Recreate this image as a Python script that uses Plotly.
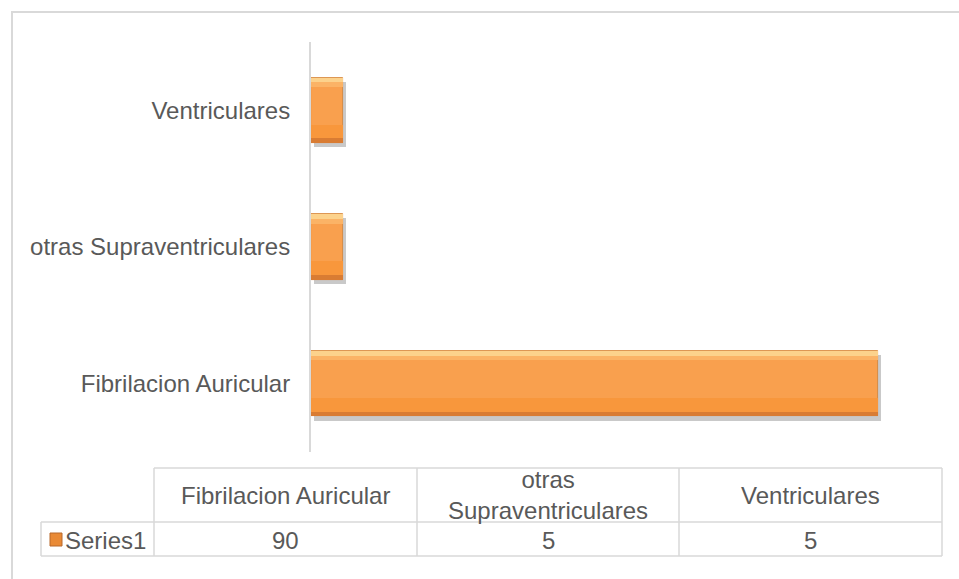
import plotly.graph_objects as go

# ---- data ----
categories = ["Fibrilacion Auricular", "otras Supraventriculares", "Ventriculares"]
series_name = "Series1"
values = [90, 5, 5]

# ---- styling ----
W, H = 959, 579
L, R, T, B = 311, 18, 42, 127
FONT = "Liberation Sans, Arial, sans-serif"
TXT = "#595959"
GRID = "#d9d9d9"
ORANGE = "#F9A04E"
FS = 24

plot_w = W - L - R
plot_h = H - T - B


def px(x):
    """pixel x -> paper x"""
    return (x - L) / plot_w


def py(y):
    """pixel y -> paper y"""
    return (H - B - y) / plot_h


BW = 0.48  # bar thickness in category units

fig = go.Figure()


def bar_layer(offset, width, color, base=None, **kw):
    fig.add_trace(go.Bar(
        y=categories, x=values, base=base, orientation="h",
        width=width, offset=offset,
        marker=dict(color=color, line=dict(width=0)),
        hoverinfo="skip", showlegend=False, **kw,
    ))


# soft drop shadow under each bar
bar_layer(-BW / 2 - 0.03, BW, "rgba(120,120,120,0.40)", base=0.5)
# main bar body
fig.add_trace(go.Bar(
    y=categories, x=values, orientation="h", name=series_name,
    width=BW, offset=-BW / 2,
    marker=dict(color=ORANGE, line=dict(color="#D08034", width=0.8)),
    showlegend=False,
))
# bevel bands: darker towards the bottom, lighter towards the top
bar_layer(-BW / 2 + 0.035, 0.10, "#F8973C")
bar_layer(-BW / 2, 0.035, "#D97C33")
bar_layer(BW / 2 - 0.07, 0.035, "#FBB366")
bar_layer(BW / 2 - 0.035, 0.035, "#FCD28C")

shapes = []
annotations = []

# outer chart frame (runs past the right and bottom edges)
shapes.append(dict(type="rect", xref="paper", yref="paper",
                   x0=px(12), x1=px(1100), y0=py(12), y1=py(700),
                   line=dict(color=GRID, width=2), layer="below"))

# ---- data table under the chart ----
col_edges = [154, 417, 679, 942]
row_top, row_mid, row_bot = 468, 522, 556
label_left = 41
tl = dict(color=GRID, width=1.5)


def hline(x0, x1, y):
    shapes.append(dict(type="line", xref="paper", yref="paper",
                       x0=px(x0), x1=px(x1), y0=py(y), y1=py(y), line=tl))


def vline(x, y0, y1):
    shapes.append(dict(type="line", xref="paper", yref="paper",
                       x0=px(x), x1=px(x), y0=py(y0), y1=py(y1), line=tl))


hline(col_edges[0], col_edges[-1], row_top)
hline(label_left, col_edges[-1], row_mid)
hline(label_left, col_edges[-1], row_bot)
vline(label_left, row_mid, row_bot)
for xe in col_edges:
    vline(xe, row_top, row_bot)


def wrap(s, limit=22):
    if len(s) > limit and " " in s:
        a, b = s.split(" ", 1)
        return a + "<br>" + b
    return s


for i, (cat, val) in enumerate(zip(categories, values)):
    cx = (col_edges[i] + col_edges[i + 1]) / 2
    annotations.append(dict(xref="paper", yref="paper", x=px(cx), y=py((row_top + row_mid) / 2),
                            text=wrap(cat), showarrow=False, xanchor="center", yanchor="middle",
                            font=dict(family=FONT, size=FS, color=TXT)))
    annotations.append(dict(xref="paper", yref="paper", x=px(cx), y=py((row_mid + row_bot) / 2 + 1),
                            text=str(val), showarrow=False, xanchor="center", yanchor="middle",
                            font=dict(family=FONT, size=FS, color=TXT)))

# legend key inside the row header cell
shapes.append(dict(type="rect", xref="paper", yref="paper",
                   x0=px(50), x1=px(62), y0=py(546), y1=py(533),
                   fillcolor="#E98A36", line=dict(color="#B8682A", width=1)))
annotations.append(dict(xref="paper", yref="paper", x=px(63), y=py((row_mid + row_bot) / 2 + 1),
                        text=series_name, showarrow=False, xanchor="left", yanchor="middle",
                        font=dict(family=FONT, size=FS, color=TXT)))

fig.update_layout(
    width=W, height=H,
    margin=dict(l=L, r=R, t=T, b=B, autoexpand=False),
    paper_bgcolor="white", plot_bgcolor="white",
    barmode="overlay", bargap=0,
    showlegend=False,
    font=dict(family=FONT, size=FS, color=TXT),
    xaxis=dict(range=[0, 100], visible=False, fixedrange=True),
    yaxis=dict(type="category", categoryorder="array", categoryarray=categories,
               showline=True, linecolor=GRID, linewidth=2, showgrid=False,
               ticks="", ticklabelstandoff=14,
               tickfont=dict(family=FONT, size=FS, color=TXT), fixedrange=True),
    shapes=shapes, annotations=annotations,
)

fig.write_html("out.html")
